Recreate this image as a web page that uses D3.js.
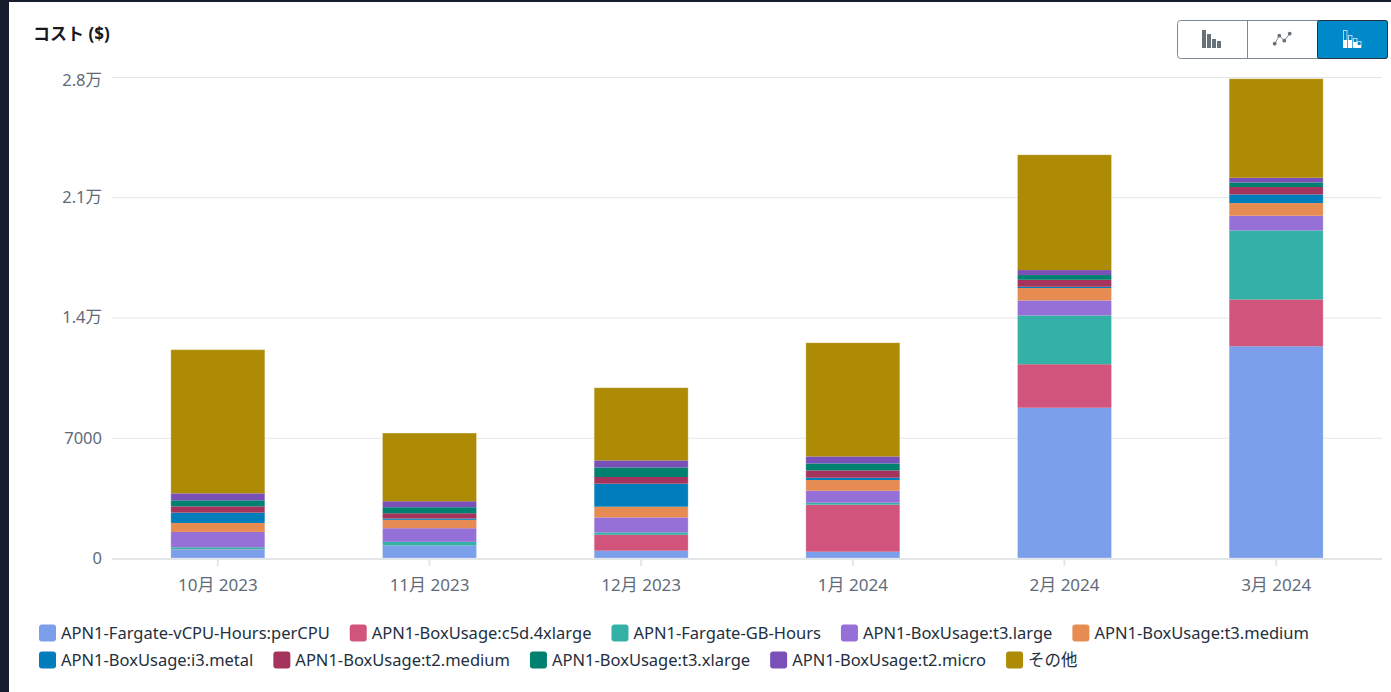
<!DOCTYPE html>
<html>
  <head>
    <meta charset="utf-8">
    <style>
      html, body { margin: 0; padding: 0; background: #fff; overflow: hidden; }
      text { font-family: "Noto Sans", "Noto Sans CJK JP", sans-serif; }
      .grid line { stroke: #e3e6e8; stroke-width: 1px; }
      .grid path { display: none; }
      .axis text { fill: #5f6b7a; font-size: 16.5px; }
      .axis path { display: none; }
      .axis line { stroke: #e3e6e8; stroke-width: 2px; }
      .xaxis text { font-size: 17px; }
      .legend text { fill: #232f3e; font-size: 16.5px; }
    </style>
  </head>
  <body>
    <script src="https://d3js.org/d3.v7.min.js"></script>
    <script>
    var width = 1391, height = 692;

    var months = ["10月 2023", "11月 2023", "12月 2023", "1月 2024", "2月 2024", "3月 2024"];
    var yTicks = [0, 7000, 14000, 21000, 28000];
    var yTickLabels = ["0", "7000", "1.4万", "2.1万", "2.8万"];

    // series, bottom of the stack first
    var fargateCpu = [495, 716, 425, 367, 8747, 12327];
    var c5d4xlarge = [10, 10, 931, 2735, 2532, 2724];
    var fargateGb = [116, 215, 134, 116, 2840, 4016];
    var t3large = [896, 792, 873, 698, 873, 856];
    var t3medium = [524, 489, 623, 623, 722, 739];
    var i3metal = [600, 76, 1339, 134, 76, 501];
    var t2medium = [367, 308, 390, 425, 407, 431];
    var t3xlarge = [349, 349, 559, 407, 274, 268];
    var t2micro = [407, 349, 407, 407, 291, 274];
    var others = [8363, 3969, 4231, 6617, 6710, 5762];

    var seriesNames = ["APN1-Fargate-vCPU-Hours:perCPU", "APN1-BoxUsage:c5d.4xlarge", "APN1-Fargate-GB-Hours",
      "APN1-BoxUsage:t3.large", "APN1-BoxUsage:t3.medium", "APN1-BoxUsage:i3.metal", "APN1-BoxUsage:t2.medium",
      "APN1-BoxUsage:t3.xlarge", "APN1-BoxUsage:t2.micro", "その他"];
    var seriesValues = [fargateCpu, c5d4xlarge, fargateGb, t3large, t3medium, i3metal, t2medium, t3xlarge, t2micro, others];
    var seriesColors = ["#7c9fec", "#d0547b", "#34b1a6", "#9570d6", "#e68c52", "#007dba", "#a5345c", "#00806f", "#7850b8", "#ad8b04"];

    var rows = months.map(function(m, i) {
      var row = { month: m };
      seriesNames.forEach(function(s, j) { row[s] = seriesValues[j][i]; });
      return row;
    });

    var svg = d3.select("body")
        .append("svg")
        .attr("width", width)
        .attr("height", height)
        .style("display", "block");

    // dark console frame on the left and top
    svg.append("rect").attr("width", width).attr("height", 2).attr("fill", "#161d2d");
    svg.append("rect").attr("width", 9).attr("height", height).attr("fill", "#161d2d");

    var x = d3.scaleBand()
        .domain(months)
        .range([112, 1382])
        .paddingInner(.556)
        .paddingOuter(.278);

    var y = d3.scaleLinear()
        .domain([0, 28000])
        .range([558, 77]);

    // gridlines
    svg.append("g")
        .attr("class", "grid")
        .attr("transform", "translate(112,0)")
        .call(d3.axisLeft(y).tickValues(yTicks.slice(1)).tickSize(-1270).tickFormat(""));

    // y axis, the top label sits a little lower than its gridline
    var yAxis = svg.append("g")
        .attr("class", "axis")
        .attr("transform", "translate(112,0)")
        .call(d3.axisLeft(y).tickValues(yTicks).tickSize(0).tickPadding(10)
          .tickFormat(function(d, i) { return yTickLabels[i]; }));
    yAxis.selectAll("text").attr("dy", function(d) { return d == 28000 ? "0.5em" : "0.33em"; });

    // stacked bars
    var stack = d3.stack().keys(seriesNames);
    var stacked = stack(rows);

    svg.append("g")
      .selectAll("g")
      .data(stacked)
      .enter().append("g")
        .attr("fill", function(d, i) { return seriesColors[i]; })
      .selectAll("rect")
      .data(function(d) { return d; })
      .enter().append("rect")
        .attr("x", function(d) { return x(d.data.month); })
        .attr("y", function(d) { return y(d[1]); })
        .attr("width", x.bandwidth())
        .attr("height", function(d) { return y(d[0]) - y(d[1]); });

    // faint light edge around each whole bar
    svg.append("g")
      .selectAll("rect")
      .data(stacked[stacked.length - 1])
      .enter().append("rect")
        .attr("x", function(d) { return x(d.data.month); })
        .attr("y", function(d) { return y(d[1]); })
        .attr("width", x.bandwidth())
        .attr("height", function(d) { return y(0) - y(d[1]); })
        .attr("fill", "none")
        .attr("stroke", "#fff")
        .attr("stroke-opacity", .25);

    // x axis
    var xAxis = svg.append("g")
        .attr("class", "axis xaxis")
        .attr("transform", "translate(0,559)")
        .call(d3.axisBottom(x).tickSize(7).tickPadding(13));
    xAxis.append("line")
        .attr("x1", 112).attr("x2", 1382)
        .style("stroke", "#e3e6e8");

    // y title
    svg.append("text")
        .attr("x", 33)
        .attr("y", 40)
        .attr("fill", "#16191f")
        .style("font-size", "17px")
        .style("font-weight", 700)
        .text("コスト ($)");

    // legend, two rows of five, flowed on text width
    var legend = svg.append("g").attr("class", "legend");
    seriesNames.forEach(function(name, i) {
      if (i % 5 == 0) legend.cursorX = 39;
      var rowY = i < 5 ? 633 : 660;
      var item = legend.append("g").attr("transform", "translate(" + legend.cursorX + "," + rowY + ")");
      item.append("rect")
          .attr("y", -8.5).attr("width", 17).attr("height", 17).attr("rx", 3)
          .attr("fill", seriesColors[i]);
      var label = item.append("text")
          .attr("x", 22).attr("dy", "0.35em")
          .text(name);
      legend.cursorX += 22 + label.node().getComputedTextLength() + 20;
    });

    // chart type buttons
    var buttons = svg.append("g").attr("transform", "translate(1177,20)");
    buttons.append("rect")
        .attr("x", .5).attr("y", .5).attr("width", 210).attr("height", 38).attr("rx", 3)
        .attr("fill", "#fff").attr("stroke", "#7d8998");
    buttons.append("line")
        .attr("x1", 70.5).attr("x2", 70.5).attr("y1", 0).attr("y2", 39).attr("stroke", "#7d8998");
    buttons.append("rect")
        .attr("x", 140.5).attr("y", .5).attr("width", 70).attr("height", 38).attr("rx", 2)
        .attr("fill", "#0089c9").attr("stroke", "#232f3e");

    // grouped bar icon
    var iconBars = [[25, 10, 18], [30, 14, 14], [35, 19, 9], [40, 21, 7]];
    buttons.selectAll(".iconbar").data(iconBars).enter().append("rect")
        .attr("x", function(d) { return d[0]; })
        .attr("y", function(d) { return d[1]; })
        .attr("width", 4)
        .attr("height", function(d) { return d[2]; })
        .attr("fill", "#687078");

    // line icon
    var iconPts = [[97.7, 23.7], [102.3, 15.7], [107.3, 20.7], [112.7, 13.7]];
    buttons.append("path")
        .attr("d", d3.line()(iconPts))
        .attr("fill", "none").attr("stroke", "#687078").attr("stroke-width", .8);
    buttons.selectAll(".iconpt").data(iconPts).enter().append("circle")
        .attr("cx", function(d) { return d[0]; })
        .attr("cy", function(d) { return d[1]; })
        .attr("r", 1.9)
        .attr("fill", "#687078");

    // stacked bar icon
    var iconStack = [[166, 10, 18, 8], [171, 15, 13, 8], [176, 18, 10, 6], [180, 21, 7, 3]];
    iconStack.forEach(function(d) {
      buttons.append("rect")
          .attr("x", d[0] + .5).attr("y", d[1] + .5).attr("width", 3.5).attr("height", d[2] - 1)
          .attr("fill", "none").attr("stroke", "#cfe8f5").attr("stroke-width", .8);
      buttons.append("rect")
          .attr("x", d[0]).attr("y", 28 - d[3]).attr("width", 4).attr("height", d[3])
          .attr("fill", "#fff");
    });
    </script>
  </body>
</html>
